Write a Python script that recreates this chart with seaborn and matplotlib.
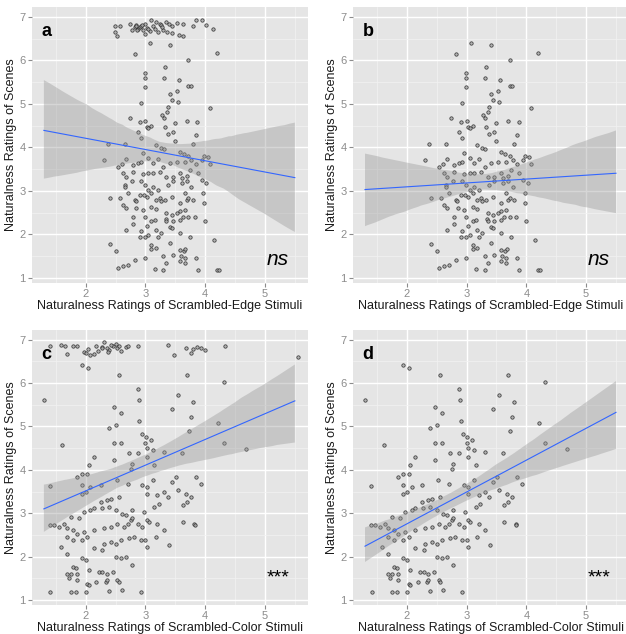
import numpy as np
import pandas as pd
import matplotlib
matplotlib.use("Agg")
import matplotlib.pyplot as plt
import seaborn as sns

# scrambled-edge ratings (x) vs scene ratings (y), panel a; panel b drops the top cluster
edge_x = [2.49, 2.49, 2.52, 2.57, 2.74, 2.78, 2.82, 2.84, 2.88, 2.91, 2.93, 2.96, 3.00, 3.00,
          3.02, 3.07, 3.10, 3.13, 3.16, 3.18, 3.21, 3.24, 3.26, 3.30, 3.34, 3.36, 3.40, 3.44,
          3.44, 3.52, 3.56, 3.63, 3.63, 3.80, 3.85, 3.94, 4.02, 4.13, 3.27, 2.86,
          2.85, 2.95, 3.05,
          3.07, 3.41, 2.82, 4.20, 3.72, 3.32, 2.99, 2.99, 3.31, 3.56, 2.99, 3.72, 3.76, 3.52,
          3.41, 3.44, 3.55, 2.93, 4.08, 3.38, 3.36, 3.28, 2.74, 3.31, 2.91, 3.00, 3.10, 3.50,
          3.70, 3.87, 3.02, 3.05, 3.32, 2.88, 3.37, 3.46, 3.85, 2.93, 3.50, 3.17, 3.79, 2.37,
          2.65, 2.96, 3.26, 3.31, 3.58, 3.65, 3.72, 3.98, 4.05, 2.30,
          2.54, 2.61, 2.67, 2.79, 2.88, 2.93, 3.05, 3.13, 3.21, 3.30, 3.41, 3.52, 3.66, 3.77,
          3.85, 3.94, 4.08,
          2.63, 2.79, 2.96, 3.05, 3.12, 3.24, 3.35, 3.46, 3.58, 3.61, 3.69, 3.74, 3.88, 3.94, 2.68,
          2.65, 2.66, 2.77, 2.93, 2.99, 3.05, 3.13, 3.21, 3.38, 3.46, 3.61, 3.69, 3.77, 4.02, 3.02,
          2.40, 2.57, 2.71, 2.82, 2.84, 2.91, 2.98, 3.10, 3.18, 3.24, 3.26, 3.32, 3.44, 3.58,
          3.66, 3.69, 3.72, 3.80, 3.97, 3.98, 2.63, 2.68, 2.85,
          2.96, 3.10, 3.18, 3.35, 3.44, 3.52, 3.58, 3.63, 3.66, 3.72, 3.83, 2.79, 2.99, 3.10,
          3.16, 3.34, 3.35, 3.46, 3.58, 4.00, 2.68, 2.79, 3.02, 3.18, 3.41,
          3.44, 2.93, 3.05, 3.26, 3.57, 3.75, 2.99, 2.91, 3.21, 4.15, 2.40, 3.10, 3.41, 2.51,
          3.10, 3.18, 3.57, 3.64, 3.67, 2.99, 3.30, 3.46, 3.60, 3.58, 3.66, 3.85, 2.82, 2.71,
          2.63, 2.54, 3.16, 3.30, 3.88, 4.19, 4.23, 3.66, 3.35]
edge_y = [6.79, 6.66, 6.56, 6.80, 6.85, 6.70, 6.76, 6.82, 6.72, 6.78, 6.80, 6.70, 6.62, 6.85,
          6.75, 6.68, 6.92, 6.80, 6.72, 6.88, 6.66, 6.84, 6.82, 6.70, 6.88, 6.66, 6.84, 6.80,
          6.64, 6.86, 6.58, 6.84, 6.56, 6.79, 6.92, 6.92, 6.82, 6.72, 6.78, 6.70,
          6.80, 6.82, 6.72,
          6.40, 6.35, 6.16, 6.17, 6.00, 5.85, 5.72, 5.59, 5.60, 5.55, 5.38, 5.42, 5.42, 5.30,
          5.22, 5.10, 5.05, 5.03, 4.90, 4.92, 4.82, 4.74, 4.68, 4.68, 4.58, 4.61, 4.49, 4.57,
          4.60, 4.58, 4.48, 4.44, 4.48, 4.35, 4.31, 4.36, 4.29, 4.22, 4.15, 4.06, 4.07, 4.07,
          4.09, 3.87, 3.98, 3.96, 3.90, 3.85, 3.81, 3.80, 3.79, 3.71,
          3.56, 3.61, 3.74, 3.60, 3.64, 3.67, 3.75, 3.64, 3.73, 3.56, 3.64, 3.67, 3.67, 3.71,
          3.62, 3.71, 3.62,
          3.41, 3.44, 3.39, 3.41, 3.41, 3.44, 3.33, 3.33, 3.41, 3.29, 3.35, 3.48, 3.41, 3.25, 3.33,
          3.14, 3.10, 3.22, 3.22, 3.14, 3.02, 3.10, 3.02, 3.14, 3.22, 3.18, 3.22, 3.10, 3.18, 2.87,
          2.85, 2.85, 2.95, 2.80, 2.76, 2.91, 2.91, 2.95, 2.80, 2.83, 2.76, 2.80, 2.87, 2.73,
          2.95, 2.80, 2.83, 2.80, 2.96, 2.72, 2.68, 2.60, 2.60,
          2.57, 2.64, 2.58, 2.49, 2.45, 2.49, 2.53, 2.41, 2.57, 2.41, 2.41, 2.41, 2.41, 2.30,
          2.34, 2.35, 2.30, 2.30, 2.34, 2.32, 2.11, 2.24, 2.20, 2.11, 2.18,
          2.16, 2.07, 1.99, 2.03, 2.03, 1.94, 1.95, 1.94, 1.95, 1.88, 1.79, 1.76, 1.80, 1.63,
          1.66, 1.69, 1.65, 1.63, 1.66, 1.46, 1.50, 1.53, 1.50, 1.38, 1.46, 1.46, 1.42, 1.30,
          1.27, 1.23, 1.20, 1.19, 1.19, 1.19, 1.19, 1.34, 1.34]

# scrambled-color ratings (x) vs scene ratings (y), panel c; panel d drops the top cluster
color_x = [1.41, 1.58, 1.66, 1.69, 1.78, 1.86, 1.97, 2.00, 2.04, 2.07, 2.17, 2.20, 2.28, 2.31,
           2.35, 2.39, 2.46, 2.50, 2.53, 2.56, 2.59, 2.67, 2.70, 2.87, 3.37, 3.48, 3.68, 3.76,
           3.80, 3.87, 3.93, 3.99, 4.33, 5.56, 2.37, 2.14, 2.43, 2.27,
           1.94, 2.04, 2.56, 3.70, 4.32, 2.87, 2.89, 1.30, 2.47, 3.45, 3.54, 3.76, 2.59, 3.80,
           2.90, 2.39, 2.50, 4.21, 3.73, 2.94, 3.01, 3.09, 3.00, 3.03, 3.12, 1.61, 2.59, 2.47,
           4.32, 4.68, 2.73, 2.87, 3.61, 2.14, 2.47, 3.03, 3.31, 2.77, 2.06, 3.15, 2.75, 2.03,
           1.93, 1.86, 3.12, 3.51, 3.45, 3.84, 3.93, 1.40, 1.94, 2.08, 2.25, 2.52, 2.70, 2.95,
           3.03, 3.31, 3.03, 3.20, 3.37, 3.55, 3.68, 3.76, 1.94, 2.00, 2.25, 2.36, 2.42, 2.56,
           2.14, 2.27, 2.39, 2.50, 2.61, 2.67, 2.77, 2.98, 3.15, 3.23, 3.62, 3.70, 1.97, 2.08,
           1.89, 1.75, 1.64, 1.47, 1.55, 1.40, 1.69, 1.78, 1.86, 1.97, 2.14, 2.31, 2.42, 2.53,
           2.64, 2.70, 2.75, 2.78, 2.87, 2.95, 3.03, 3.06, 3.20, 3.31, 3.62, 3.82, 3.83,
           1.69, 1.78, 1.58, 1.69, 1.94, 2.03, 2.14, 2.31, 2.42, 2.50, 2.59, 2.73, 2.81, 2.92,
           3.00, 3.03, 3.17, 3.40, 2.50, 2.59, 2.67, 2.78, 1.94, 2.00, 2.28,
           1.78, 1.83, 1.69, 1.75, 1.86, 2.06, 2.22, 2.28, 2.36, 2.45, 2.03, 2.06, 2.18, 2.34,
           2.35, 2.53, 2.56, 1.72, 1.86, 1.41, 1.75, 1.83, 2.00, 2.39, 2.61, 2.92]
color_y = [6.85, 6.87, 6.85, 6.68, 6.85, 6.85, 6.72, 6.69, 6.78, 6.64, 6.85, 6.75, 6.83, 6.95,
           6.80, 6.76, 6.85, 6.91, 6.80, 6.85, 6.74, 6.83, 6.85, 6.85, 6.87, 6.64, 6.80, 6.70,
           6.78, 6.83, 6.80, 6.76, 6.85, 6.60, 6.72, 6.68, 6.88, 6.80,
           6.41, 6.35, 6.18, 6.18, 6.03, 5.86, 5.60, 5.60, 5.45, 5.40, 5.72, 5.22, 5.30, 5.56,
           5.12, 4.97, 5.03, 5.07, 4.90, 4.82, 4.76, 4.68, 4.61, 4.50, 4.45, 4.57, 4.62, 4.62,
           4.61, 4.49, 4.38, 4.38, 4.38, 4.30, 4.22, 4.30, 4.41, 4.14, 4.11, 4.11, 4.03, 3.91,
           3.91, 3.84, 3.76, 3.84, 3.72, 3.84, 3.68, 3.63, 3.65, 3.61, 3.65, 3.76, 3.68, 3.65,
           3.61, 3.49, 3.45, 3.42, 3.38, 3.53, 3.45, 3.38, 3.45, 3.49, 3.26, 3.30, 3.34, 3.38,
           3.11, 3.11, 3.15, 3.07, 2.99, 2.96, 3.07, 3.03, 3.15, 3.22, 3.19, 3.26, 3.03, 3.07,
           2.88, 2.92, 2.76, 2.73, 2.69, 2.73, 2.65, 2.61, 2.53, 2.57, 2.61, 2.65, 2.69, 2.76,
           2.69, 2.76, 2.84, 2.88, 2.76, 2.69, 2.84, 2.80, 2.76, 2.61, 2.80, 2.76, 2.73,
           2.46, 2.38, 2.23, 2.07, 2.38, 2.46, 2.19, 2.30, 2.34, 2.30, 2.38, 2.42, 2.46, 2.38,
           2.38, 2.23, 2.46, 2.27, 2.00, 1.96, 2.00, 1.80, 1.96, 1.92, 2.15,
           1.77, 1.73, 1.61, 1.61, 1.61, 1.69, 1.65, 1.65, 1.61, 1.65, 1.38, 1.35, 1.42, 1.42,
           1.46, 1.46, 1.42, 1.50, 1.46, 1.19, 1.19, 1.19, 1.19, 1.21, 1.23, 1.19]

x_ticks = [2, 3, 4, 5]
y_ticks = [1, 2, 3, 4, 5, 6, 7]
ylab = "Naturalness Ratings of Scenes"
xlab_edge = "Naturalness Ratings of Scrambled-Edge Stimuli"
xlab_color = "Naturalness Ratings of Scrambled-Color Stimuli"

edge = pd.DataFrame({"x": edge_x, "y": edge_y})
color = pd.DataFrame({"x": color_x, "y": color_y})
panels = [
    ("a", edge, xlab_edge, "ns"),
    ("b", edge[edge.y < 6.5], xlab_edge, "ns"),
    ("c", color, xlab_color, "***"),
    ("d", color[color.y < 6.5], xlab_color, "***"),
]

plt.rcParams["font.family"] = ["Liberation Sans", "DejaVu Sans"]

fig = plt.figure(figsize=(6.26, 6.34), dpi=100)
boxes = [(0.051, 0.554, 0.441, 0.435), (0.564, 0.554, 0.441, 0.435),
         (0.051, 0.046, 0.441, 0.434), (0.564, 0.046, 0.441, 0.434)]

for (letter, df, xlab, sig), box in zip(panels, boxes):
    ax = fig.add_axes(box)
    ax.set_facecolor("#E5E5E5")
    for s in ax.spines.values():
        s.set_visible(False)
    ax.set_axisbelow(True)
    ax.set_xticks(x_ticks)
    ax.set_yticks(y_ticks)
    ax.set_xticks([1.5, 2.5, 3.5, 4.5, 5.5], minor=True)
    ax.set_yticks([1.5, 2.5, 3.5, 4.5, 5.5, 6.5], minor=True)
    ax.grid(which="major", color="white", lw=1.0)
    ax.grid(which="minor", color="#F2F2F2", lw=0.5)
    ax.tick_params(which="major", colors="#8C8C8C", labelsize=8, length=3, pad=1.5)
    ax.tick_params(which="minor", length=0)

    sns.scatterplot(data=df, x="x", y="y", ax=ax, marker="o", s=6,
                    facecolors="#ABABAB", edgecolors="#222222", linewidths=0.55,
                    alpha=0.85, zorder=2)
    # fit over the full 1.3-5.5 range like the original
    ax.set_xlim(1.3, 5.5)
    before = len(ax.collections)
    sns.regplot(data=df, x="x", y="y", ax=ax, scatter=False, truncate=False,
                seed=1, line_kws={"color": "#3366FF", "lw": 0.8, "zorder": 4})
    for coll in ax.collections[before:]:
        coll.set_facecolor("#999999")
        coll.set_alpha(0.4)
        coll.set_zorder(3)

    ax.set_xlim(1.1, 5.72)
    ax.set_ylim(0.89, 7.23)
    ax.set_xlabel(xlab, fontsize=9, color="#1A1A1A", labelpad=1)
    ax.set_ylabel(ylab, fontsize=9, color="#1A1A1A", labelpad=2)
    ax.text(1.26, 6.66, letter, fontsize=13, fontweight="bold", va="center", ha="left")
    if sig == "ns":
        ax.text(5.03, 1.42, sig, fontsize=15, style="italic", va="center", ha="left")
    else:
        ax.text(5.02, 1.5, sig, fontsize=14, va="center", ha="left")

fig.savefig("out.png", dpi=100)
